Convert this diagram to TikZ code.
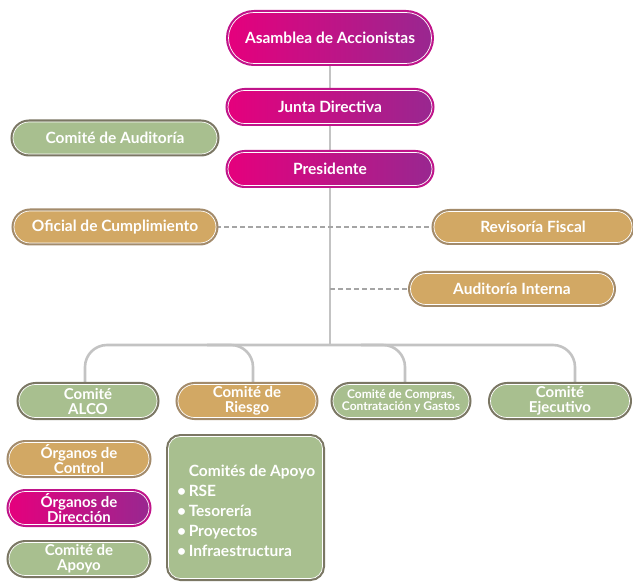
\documentclass[tikz,border=0pt]{standalone}
\usepackage{fontspec}
\setmainfont{Lato}
\usetikzlibrary{shapes.misc,backgrounds,calc}
\definecolor{mag}{HTML}{E5007D}
\definecolor{pur}{HTML}{992790}
\definecolor{magline}{HTML}{C0148A}
\definecolor{grfill}{HTML}{A8BF8F}
\definecolor{grline}{HTML}{7B7764}
\definecolor{tanfill}{HTML}{D2A864}
\definecolor{tanline}{HTML}{A38B6B}
\definecolor{conncol}{HTML}{C3C3C3}
\definecolor{dashcol}{HTML}{A5A5A5}
\begin{document}
\begin{tikzpicture}[x=1pt,y=-1pt,
  box/.style={rounded rectangle, minimum height=33pt, inner xsep=3pt, inner ysep=1pt,
    font=\fontsize{15.5}{16}\selectfont\bfseries, text=white, align=center,
    draw=white, line width=0.7pt},
  twoline/.style={font=\fontsize{15}{15}\selectfont\bfseries},
  greenbox/.style={box, fill=grfill, preaction={draw=grline, line width=5pt}},
  tanbox/.style={box, fill=tanfill, preaction={draw=tanline, line width=5pt}},
  magbox/.style={box, left color=mag, right color=pur, preaction={draw=magline, line width=5pt}},
  conn/.style={draw=conncol, line width=2.6pt},
  dashline/.style={draw=dashcol, line width=2.2pt, dash pattern=on 5pt off 3pt}
]
\useasboundingbox (0,0) rectangle (633,583);
\node[magbox, minimum width=209pt, minimum height=51pt] (asam) at (330,38) {Asamblea de Accionistas};
\node[magbox, minimum width=210pt] (junta) at (330,107) {Junta Directiva};
\node[magbox, minimum width=210pt] (pres) at (330,169) {Presidente};
\node[greenbox, minimum width=210pt, minimum height=32pt] (audit) at (115,138) {Comité de Auditoría};
\node[tanbox, minimum width=208pt, minimum height=32pt] (ofic) at (115,227) {Oficial de Cumplimiento};
\node[tanbox, minimum width=204pt, minimum height=31pt] (revis) at (533,227) {Revisoría Fiscal};
\node[tanbox, minimum width=209pt, minimum height=31pt] (audint) at (512,289) {Auditoría Interna};
\coordinate (busc) at (330,345);
\node[greenbox, twoline, minimum width=144pt] (alco) at (88,401) {Comité\\ALCO};
\node[tanbox, twoline, minimum width=144pt] (riesgo) at (247,401) {Comité de\\Riesgo};
\node[greenbox, minimum width=142pt, font=\fontsize{12}{12.5}\selectfont\bfseries] (compras) at (401,401) {Comité de Compras,\\Contratación y Gastos};
\node[greenbox, twoline, minimum width=145pt] (ejec) at (560,401) {Comité\\Ejecutivo};
\node[tanbox, twoline, minimum width=146pt] (ctrl) at (79,459) {Órganos de\\Control};
\node[magbox, twoline, minimum width=146pt] (dir) at (79,508) {Órganos de\\Dirección};
\node[greenbox, twoline, minimum width=146pt] (apoyo) at (79,559) {Comité de\\Apoyo};
\path[fill=grfill, draw=white, line width=0.7pt, rounded corners=12pt,
  preaction={draw=grline, line width=5pt, rounded corners=12pt}]
  (168.5,436.5) rectangle (322.5,578.5);
\node[anchor=north west, inner sep=0pt, align=left, text=white,
  font=\fontsize{15.5}{20}\selectfont\bfseries] (apoyolist) at (177,465)
  {\phantom{•\,}Comités de Apoyo\\•\,RSE\\•\,Tesorería\\•\,Proyectos\\•\,Infraestructura};
\begin{scope}[on background layer]
  \draw[conn] (asam.south) -- (junta.north);
  \draw[conn] (junta.south) -- (pres.north);
  \draw[conn] (pres.south) -- (busc);
  \draw[conn, rounded corners=22pt] ([xshift=-3pt]alco.north) |- (busc) -| ([xshift=15pt]ejec.north);
  \draw[conn, rounded corners=22pt] ($(riesgo.north |- busc)+(-40,0)$) -| ([xshift=6pt]riesgo.north);
  \draw[conn, rounded corners=22pt] ($(compras.north |- busc)+(-40,0)$) -| ([xshift=4pt]compras.north);
  \draw[dashline] (ofic.east) -- (revis.west);
  \draw[dashline] (pres.south |- audint.west) -- (audint.west);
\end{scope}
\end{tikzpicture}
\end{document}
